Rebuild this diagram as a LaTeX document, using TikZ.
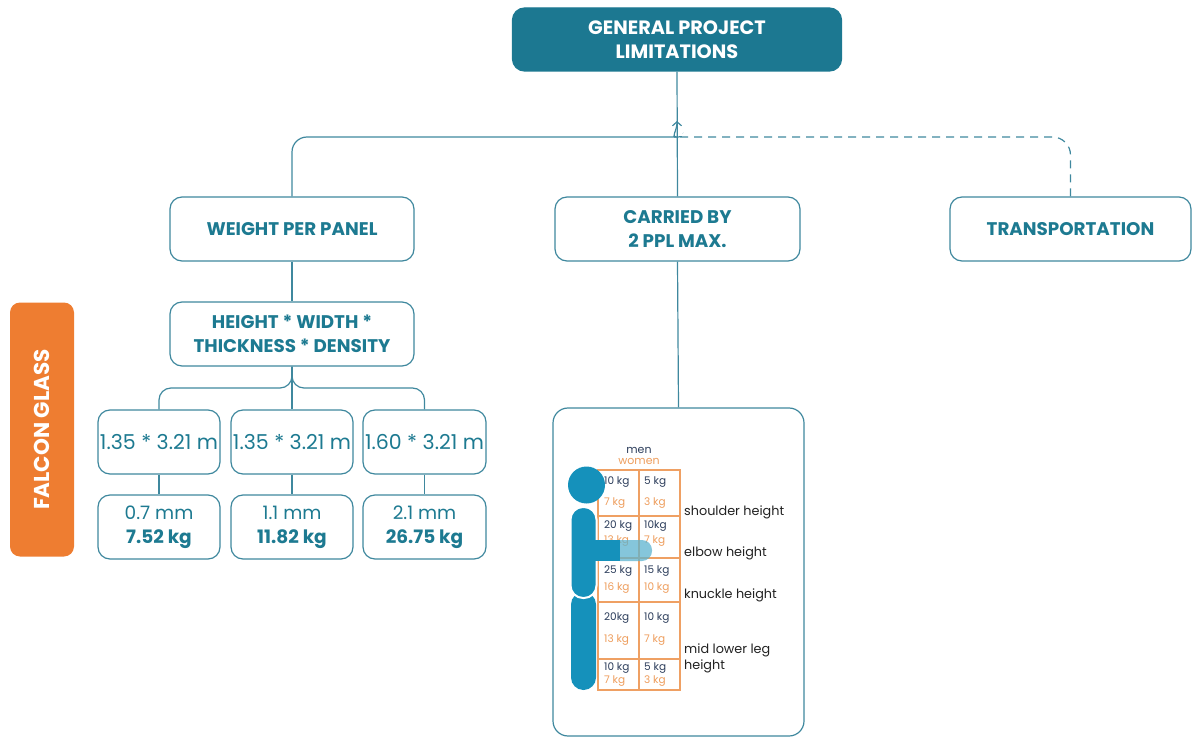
\documentclass[tikz,border=0pt]{standalone}
\usepackage{fontspec}
\setmainfont{Poppins}
\usetikzlibrary{arrows.meta,calc}
\definecolor{teal1}{HTML}{1C7891}
\definecolor{tealtxt}{HTML}{1D7A91}
\definecolor{tealline}{HTML}{3F889E}
\definecolor{orange1}{HTML}{EE7D31}
\definecolor{figblue}{HTML}{1591BB}
\definecolor{armlight}{HTML}{5DB3CF}
\definecolor{gridor}{HTML}{EFA063}
\definecolor{menc}{HTML}{2C3D5B}
\definecolor{womenc}{HTML}{EE9D5C}
\definecolor{lbl}{HTML}{222222}
\begin{document}
\begin{tikzpicture}[x=1pt,y=-1pt,
  box/.style={draw=tealline,line width=1.2pt,rounded corners=12pt,fill=white,text=tealtxt,align=center,inner sep=0pt},
  hdr/.style={box,font=\fontsize{18.3}{24}\selectfont\bfseries},
  dat/.style={box,font=\fontsize{20.5}{24}\selectfont,minimum width=122pt,minimum height=64pt},
  res/.style={box,font=\fontsize{18.5}{24}\selectfont,minimum width=122pt,minimum height=64pt},
  conn/.style={draw=tealline,line width=1.2pt},
  men/.style={text=menc,anchor=west,inner sep=0pt,font=\fontsize{10.5}{12}\selectfont},
  women/.style={text=womenc,anchor=west,inner sep=0pt,font=\fontsize{10.5}{12}\selectfont},
  lab/.style={text=lbl,anchor=west,inner sep=0pt,font=\fontsize{12.8}{15}\selectfont},
  gridl/.style={draw=gridor,line width=1.3pt}
]
\useasboundingbox (0,0) rectangle (1192,738);

% nodes
\node[box,fill=teal1,draw=teal1,text=white,font=\fontsize{19.3}{24}\selectfont\bfseries,
      minimum width=329pt,minimum height=63pt] (title) at (677,39.5) {GENERAL PROJECT\\LIMITATIONS};
\node[hdr,minimum width=244pt,minimum height=64pt] (wpp) at (292,229) {WEIGHT PER PANEL};
\node[hdr,minimum width=245pt,minimum height=64pt] (carry) at (677.5,229) {CARRIED BY\\2 PPL MAX.};
\node[hdr,minimum width=241pt,minimum height=64pt] (trans) at (1070.5,229) {TRANSPORTATION};
\node[hdr,minimum width=244pt,minimum height=64pt] (hw) at (292,334) {HEIGHT * WIDTH *\\THICKNESS * DENSITY};
\node[dat] (d1) at (159,442) {1.35 * 3.21 m};
\node[dat] (d2) at (292,442) {1.35 * 3.21 m};
\node[dat,minimum width=123pt] (d3) at (424.5,442) {1.60 * 3.21 m};
\node[res] (r1) at (159,527) {0.7 mm\\\textbf{7.52 kg}};
\node[res] (r2) at (292,527) {1.1 mm\\\textbf{11.82 kg}};
\node[res,minimum width=123pt] (r3) at (424.5,527) {2.1 mm\\\textbf{26.75 kg}};
\node[fill=orange1,rounded corners=10pt,minimum width=254pt,minimum height=64pt,rotate=90,
      text=white,font=\fontsize{21.5}{24}\selectfont\bfseries,inner sep=0pt] (falcon) at (42,429.5) {FALCON GLASS};
\node[box,rounded corners=15pt,minimum width=251pt,minimum height=328pt] (figbox) at (678.5,572) {};

% connectors
\coordinate (jun) at (677,121);
\coordinate (jl) at (661,137);
\coordinate (jr) at (692,137);
\coordinate (dend) at (683,133);
\coordinate (hwbar) at (0,388);
\draw[conn] (title.south) -- (carry.north);
\draw[conn,rounded corners=15pt,-{Straight Barb[length=4pt,width=9pt]}]
  (wpp.north) |- (jl) .. controls (671,137) and (677,131) .. (jun);
\draw[conn,dash pattern=on 8pt off 6pt,rounded corners=18pt]
  (trans.north) |- (jr) .. controls (688,137) and (685,135) .. (dend);
\draw[conn] (wpp.south) -- (hw.north);
\draw[conn] (hw.south) -- (d2.north);
\draw[conn,rounded corners=12pt] (hw.south) |- (d1.north |- hwbar) -- (d1.north);
\draw[conn,rounded corners=12pt] (hw.south) |- (d3.north |- hwbar) -- (d3.north);
\draw[conn] (d1.south) -- (r1.north);
\draw[conn] (d2.south) -- (r2.north);
\draw[conn] (d3.south) -- (r3.north);
\draw[conn] (carry.south) -- (figbox.north);

% lifting chart
\node[text=menc,inner sep=0pt,font=\fontsize{11}{12}\selectfont] at (639,450) {men};
\node[text=womenc,inner sep=0pt,font=\fontsize{11}{12}\selectfont] at (639,461) {women};
\draw[gridl] (598,470) rectangle (680,690);
\draw[gridl] (639,470) -- (639,690);
\foreach \yy in {516,558,602,659} \draw[gridl] (598,\yy) -- (680,\yy);

\node[men] at (604,482) {10 kg};   \node[men] at (644,482) {5 kg};
\node[women] at (604,503) {7 kg};  \node[women] at (644,503) {3 kg};
\node[men] at (604,526) {20 kg};   \node[men] at (644,526) {10kg};
\node[women] at (604,541) {13 kg}; \node[women] at (644,541) {7 kg};
\node[men] at (604,571) {25 kg};   \node[men] at (644,571) {15 kg};
\node[women] at (604,588) {16 kg}; \node[women] at (644,588) {10 kg};
\node[men] at (604,618) {20kg};    \node[men] at (644,618) {10 kg};
\node[women] at (604,640) {13 kg}; \node[women] at (644,640) {7 kg};
\node[men] at (604,668) {10 kg};   \node[men] at (644,668) {5 kg};
\node[women] at (604,681) {7 kg};  \node[women] at (644,681) {3 kg};

\node[lab] at (684,512) {shoulder height};
\node[lab] at (684,553) {elbow height};
\node[lab] at (684,595) {knuckle height};
\node[lab] at (684,650) {mid lower leg};
\node[lab] at (684,666) {height};

% person
\fill[figblue,rounded corners=12.5pt] (571,592) rectangle (596,690);
\filldraw[fill=figblue,draw=white,line width=2pt,rounded corners=12.5pt] (570.5,507) rectangle (596.5,598);
\fill[armlight,opacity=0.75,rounded corners=10pt] (610,540) rectangle (652,561);
\fill[figblue] (594,540) rectangle (620,561);
\fill[figblue] (586.5,485) circle (18.5pt);
\end{tikzpicture}
\end{document}
